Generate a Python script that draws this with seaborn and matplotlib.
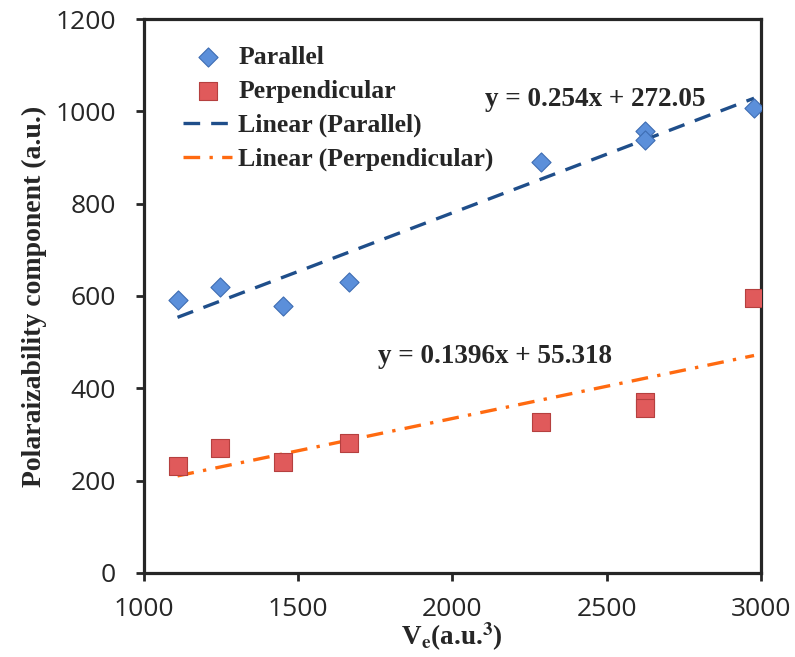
import numpy as np
import pandas as pd
import matplotlib
matplotlib.use("Agg")
import matplotlib.pyplot as plt
import seaborn as sns

# values
ve = [1109, 1247, 1452, 1665, 2287, 2624, 2624, 2978]
parallel = [592, 620, 579, 631, 890, 958, 937, 1008]
perpendicular = [232, 271, 240, 281, 328, 371, 357, 595]

# trend line equations printed on the chart
fit_par = (0.254, 272.05)
fit_perp = (0.1396, 55.318)
eq_par = "y = 0.254x + 272.05"
eq_perp = "y = 0.1396x + 55.318"

x_ticks = [1000, 1500, 2000, 2500, 3000]
y_ticks = [0, 200, 400, 600, 800, 1000, 1200]

df = pd.DataFrame({"ve": ve, "parallel": parallel, "perpendicular": perpendicular})

sns.set_style("ticks")
plt.rcParams["mathtext.fontset"] = "stix"

fig = plt.figure(figsize=(7.95, 6.57), dpi=100)
ax = fig.add_axes([0.181, 0.128, 0.776, 0.843])

serif = "Liberation Serif"

sns.scatterplot(data=df, x="ve", y="parallel", marker="D", s=95,
                color="#5B8FDA", edgecolor="#3E6DB3", linewidth=0.8,
                label="Parallel", ax=ax, zorder=3)
sns.scatterplot(data=df, x="ve", y="perpendicular", marker="s", s=165,
                color="#E05A5B", edgecolor="#B5403F", linewidth=0.8,
                label="Perpendicular", ax=ax, zorder=3)

xs = np.array([min(ve), max(ve)])
ax.plot(xs, fit_par[0] * xs + fit_par[1], color="#1F4E8A", lw=2.4,
        dashes=(5, 3.3), label="Linear (Parallel)", zorder=2)
ax.plot(xs, fit_perp[0] * xs + fit_perp[1], color="#FF6A10", lw=2.4,
        dashes=(5, 2.8, 1, 2.8), label="Linear (Perpendicular)", zorder=2)

ax.text(2105, 1025, eq_par, fontsize=19.5, fontweight="bold", family=serif,
        va="center", ha="left")
ax.text(1758, 468, eq_perp, fontsize=19.5, fontweight="bold", family=serif,
        va="center", ha="left")

ax.set_xlim(1000, 3000)
ax.set_ylim(0, 1200)
ax.set_xticks(x_ticks)
ax.set_yticks(y_ticks)
ax.tick_params(direction="out", length=6, width=2, labelsize=19)
ax.tick_params(axis="y", pad=14)
ax.tick_params(axis="x", pad=11)
for lab in ax.get_xticklabels() + ax.get_yticklabels():
    lab.set_family("Open Sans")
for sp in ax.spines.values():
    sp.set_linewidth(2.3)
    sp.set_visible(True)

ax.set_xlabel(r"V$_\mathbf{e}$(a.u.$^\mathbf{3}$)", fontsize=19.5,
              fontweight="bold", family=serif, labelpad=-1)
ax.set_ylabel("Polaraizability component (a.u.)", fontsize=20,
              fontweight="bold", family=serif, labelpad=6)

leg = ax.legend(loc="upper left", frameon=False, bbox_to_anchor=(0.047, 0.97),
                borderaxespad=0, handlelength=1.9, handletextpad=0.25,
                labelspacing=0.42,
                prop={"family": serif, "weight": "bold", "size": 18.5})

fig.savefig("out.png", dpi=100, facecolor="white")
